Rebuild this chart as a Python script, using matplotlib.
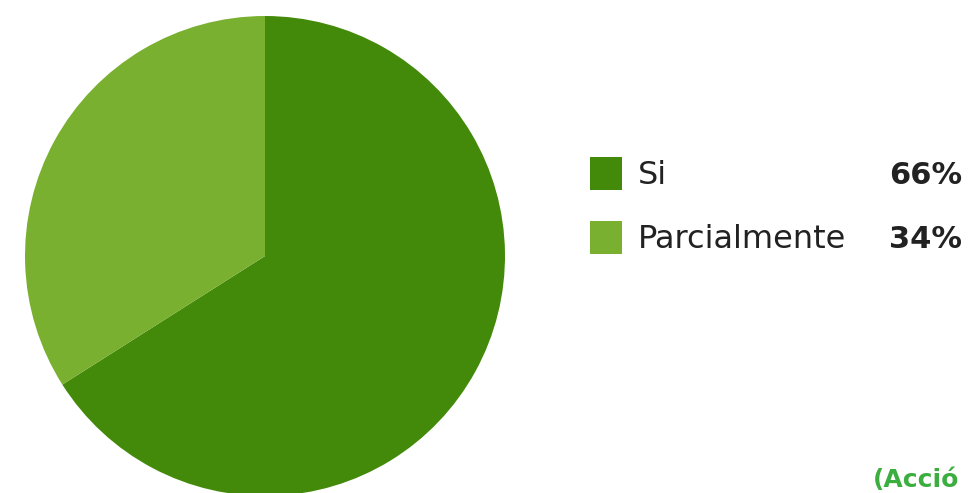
import matplotlib
matplotlib.use("Agg")
from matplotlib import pyplot as plt
from matplotlib.patches import Rectangle

# datos del grafico
categorias = ["Si", "Parcialmente"]
valores = [66, 34]
colores = ["#438a0a", "#79b030"]
nota = "(Acció"

W, H = 969, 493
fig = plt.figure(figsize=(W / 100, H / 100), dpi=100)

# pastel: centro (265,256) px, radio 240 px
cx, cy, r = 265, 256, 240
ax = fig.add_axes([(cx - r) / W, (H - cy - r) / H, 2 * r / W, 2 * r / H])
ax.pie(valores, colors=colores, startangle=90, counterclock=False, radius=1.0,
       wedgeprops=dict(linewidth=0))
ax.set_xlim(-1, 1)
ax.set_ylim(-1, 1)
ax.set_aspect("auto")
ax.axis("off")

# leyenda a mano
filas_y = [172, 236]
for cat, val, col, y in zip(categorias, valores, colores, filas_y):
    fig.patches.append(Rectangle((590 / W, (H - y - 18) / H), 32 / W, 33 / H,
                                 transform=fig.transFigure, color=col, linewidth=0))
    fig.text(638 / W, (H - y) / H, cat, fontsize=23, color="#222222",
             va="center_baseline", ha="left")
    fig.text(962 / W, (H - y) / H, "%d%%" % val, fontsize=22, color="#222222",
             fontweight="bold", va="center_baseline", ha="right")

fig.text(873 / W, (H - 478) / H, nota, fontsize=18, color="#3cae3f",
         fontweight="bold", va="center_baseline", ha="left")

fig.savefig("out.png", dpi=100)
